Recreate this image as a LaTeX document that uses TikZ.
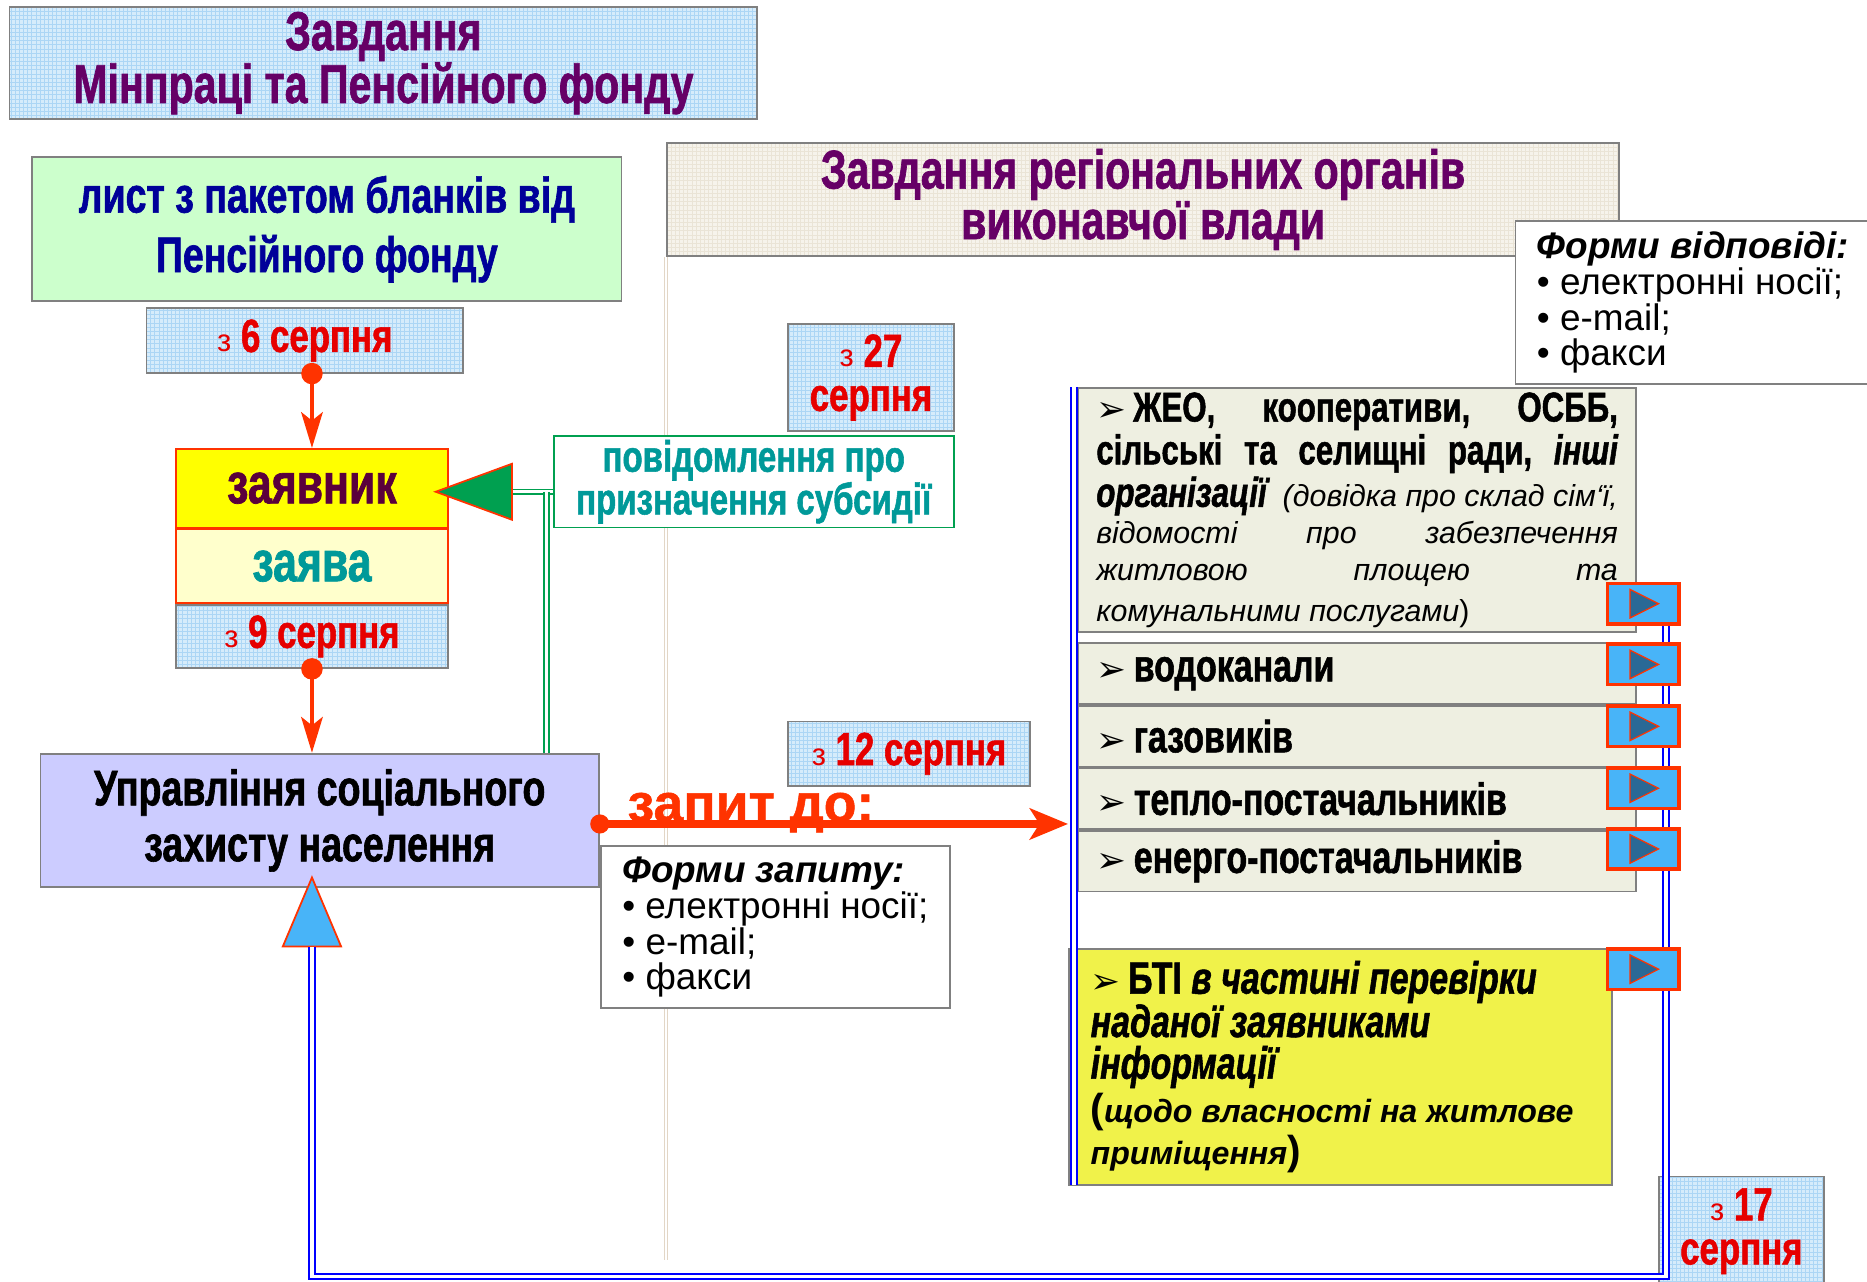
\documentclass[tikz,border=0pt]{standalone}
\usepackage{fontspec}
\setmainfont{Liberation Sans}
\newfontfamily\heavyfont[FakeStretch=0.75,FakeBold=1.2]{Liberation Sans}
\newfontfamily\widebold[FakeBold=1]{Liberation Sans}
\newfontfamily\dejavu{DejaVu Sans}
\newcommand{\hv}{\heavyfont\bfseries}
\newcommand{\zsm}{\normalfont\fontsize{26}{26}\selectfont з}
\newcommand{\bul}{{\dejavu\fontsize{30}{30}\selectfont ➢}\,}
\usetikzlibrary{positioning,shapes.geometric,arrows.meta}

\definecolor{titlePurple}{RGB}{102,0,102}
\definecolor{leafBlue}{RGB}{0,0,153}
\definecolor{leafGreen}{RGB}{204,255,204}
\definecolor{dateRed}{RGB}{230,0,0}
\definecolor{arrowRed}{RGB}{255,51,0}
\definecolor{gridBlue}{RGB}{214,236,251}
\definecolor{gridLine}{RGB}{172,214,245}
\definecolor{beigeFill}{RGB}{246,243,235}
\definecolor{beigeGrid}{RGB}{234,228,214}
\definecolor{beigeLine}{RGB}{226,214,198}
\definecolor{boxGray}{RGB}{128,128,128}
\definecolor{applYellow}{RGB}{255,255,0}
\definecolor{paleYellow}{RGB}{255,255,204}
\definecolor{applPurple}{RGB}{90,0,60}
\definecolor{tealText}{RGB}{0,153,153}
\definecolor{lavender}{RGB}{204,204,255}
\definecolor{noticeGreen}{RGB}{0,160,80}
\definecolor{itemGray}{RGB}{238,239,225}
\definecolor{btiYellow}{RGB}{240,242,74}
\definecolor{btnBlue}{RGB}{72,180,248}
\definecolor{playDark}{RGB}{42,105,150}
\definecolor{lineBlue}{RGB}{0,0,255}

\begin{document}
\begin{tikzpicture}[x=1pt, y=-1pt,
    box/.style={rectangle, draw=boxGray, line width=1.5pt, inner sep=0pt, align=center},
    gridbox/.style={box, fill=gridBlue, path picture={\draw[gridLine, line width=0.4pt] (path picture bounding box.south west) grid[step=3.5pt] (path picture bounding box.north east);}},
    datebox/.style={gridbox, text=dateRed, font=\hv\fontsize{39}{37}\selectfont},
    itembox/.style={box, fill=itemGray, text width=438pt, inner xsep=15pt, align=flush left, minimum height=51pt, font=\hv\fontsize{38}{38}\selectfont},
    listbox/.style={box, fill=white, anchor=north west, inner xsep=18pt, inner ysep=9pt, align=flush left, font=\fontsize{31}{30}\selectfont},
    playbtn/.style={rectangle, fill=btnBlue, draw=arrowRed, line width=3pt, minimum width=60pt, minimum height=34pt, inner sep=0pt,
      path picture={\filldraw[fill=playDark, draw=arrowRed, line width=1pt] ([xshift=-11pt,yshift=12pt]path picture bounding box.center) -- ([xshift=13pt]path picture bounding box.center) -- ([xshift=-11pt,yshift=-12pt]path picture bounding box.center) -- cycle;}},
    tri/.style={isosceles triangle, isosceles triangle stretches, inner sep=0pt, draw=arrowRed, line width=1.5pt, anchor=apex},
    redarrow/.style={arrowRed, line width=4pt, shorten <=-9pt, arrows={Circle[length=18pt]-Stealth[length=30pt,width=18pt,inset=7pt]}},
    reqarrow/.style={arrowRed, line width=6pt, shorten <=-8pt, arrows={Circle[length=16pt]-Stealth[length=32pt,width=26pt,inset=8pt]}},
    greenline/.style={draw=noticeGreen, double=white, line width=1.3pt, double distance=2.5pt},
    blueline/.style={draw=lineBlue, double=white, line width=1.7pt, double distance=3pt},
    beigeline/.style={draw=beigeLine, double=white, line width=1pt, double distance=2pt}]
    \useasboundingbox (0,0) rectangle (1568,1076);

    % Left side: ministry and pension fund
    \node (taskTop) [gridbox, minimum width=628pt, minimum height=94pt, text=titlePurple, font=\hv\fontsize{46}{39}\selectfont] at (322,53) {Завдання\\Мінпраці та Пенсійного фонду};

    \node (leafPF) [box, fill=leafGreen, minimum width=495pt, minimum height=121pt, text=leafBlue, font=\hv\fontsize{42}{50}\selectfont] at (274.5,192.5) {лист з пакетом бланків від\\Пенсійного фонду};

    \node (date6) [datebox, minimum width=266pt, minimum height=54pt] at (256,286) {{\zsm} 6 серпня};

    \node (applicant) [box, draw=arrowRed, fill=applYellow, minimum width=228pt, minimum height=66pt, text=applPurple, font=\hv\fontsize{48}{48}\selectfont] at (262,410) {заявник};
    \node (claim) [box, draw=arrowRed, fill=paleYellow, minimum width=228pt, minimum height=62pt, text=tealText, font=\hv\fontsize{48}{48}\selectfont, below=0pt of applicant] {заява};
    \node (date9) [datebox, minimum width=228pt, minimum height=53pt, below=0pt of claim] {{\zsm} 9 серпня};

    \node (socDept) [box, fill=lavender, minimum width=469pt, minimum height=112pt, font=\hv\fontsize{42}{47}\selectfont] at (268.5,689) {Управління соціального\\захисту населення};

    % Right side: regional bodies
    \node (taskReg) [box, fill=beigeFill, path picture={\draw[beigeGrid, line width=0.4pt] (path picture bounding box.south west) grid[step=3.5pt] (path picture bounding box.north east);}, minimum width=800pt, minimum height=95pt, text=titlePurple, font=\hv\fontsize{46}{39}\selectfont] at (960,167.5) {Завдання регіональних органів\\виконавчої влади};
    \draw [beigeline] (taskReg.south west) -- (taskReg.south west |- 0,1058);

    \node (notice) [box, draw=noticeGreen, fill=white, minimum width=336pt, minimum height=77pt, text=tealText, font=\hv\fontsize{37}{30}\selectfont] at (633,404.5) {повідомлення про\\призначення субсидії};
    \node (date27) [datebox, minimum width=139pt, minimum height=90pt] at (731.5,317) {{\zsm} 27\\серпня};

    \node (greenTri) [tri, shape border rotate=180, minimum width=47pt, minimum height=64pt, fill=noticeGreen] at (364,413) {};
    \coordinate (greenJoint) at (459,413);
    \draw [greenline] (notice.west |- greenJoint) -- (greenTri.lower side);
    \draw [greenline] (socDept.north -| greenJoint) -- (greenJoint);

    \node (respForms) [listbox, text width=267pt] at (1272,185) {\textbf{\textit{Форми відповіді:}}\\• електронні носії;\\• e-mail;\\• факси};

    \node (date17) [datebox, minimum width=139pt, minimum height=92pt] at (1462.5,1034) {{\zsm} 17\\серпня};

    % Boxes of the providers
    \node (zheo) [box, fill=itemGray, anchor=north west, text width=438pt, inner xsep=15pt, minimum height=205pt, align=flush left, font=\hv\fontsize{35}{34}\selectfont] at (905,325) {\bul ЖЕО,\hfill кооперативи,\hfill ОСББ,\\[2pt]
      сільські\hfill та\hfill селищні\hfill ради,\hfill {\itshape інші}\\[2pt]
      {\itshape організації}\hfill\normalfont\itshape\fontsize{25.5}{31}\selectfont (довідка про склад сім‘ї,\\
      відомості\hfill про\hfill забезпечення\\
      житловою\hfill площею\hfill та\\
      комунальними послугами{\upshape )}};
    \node (water) [itembox, below=8pt of zheo] {\bul водоканали};
    \node (gas) [itembox, below=0pt of water] {\bul газовиків};
    \node (heat) [itembox, below=0pt of gas] {\bul тепло-постачальників};
    \node (power) [itembox, below=0pt of heat] {\bul енерго-постачальників};

    \node (bti) [box, fill=btiYellow, minimum height=198pt, text width=420pt, inner xsep=18pt, align=flush left, font=\hv\fontsize{38}{35}\selectfont] at (1126,896) {\bul БТІ {\itshape в частині перевірки}\\
      {\itshape наданої заявниками}\\
      {\itshape інформації}\\
      \normalfont\bfseries\itshape\fontsize{27}{37}\selectfont{\upshape\fontsize{34}{37}\selectfont (}щодо власності на житлове\\
      приміщення{\upshape\fontsize{34}{37}\selectfont )}};

    % Feedback line back to the department
    \node (blueTri) [tri, shape border rotate=90, minimum width=49pt, minimum height=58pt, fill=btnBlue] at (262,735) {};
    \coordinate (fbTop) at (1399,525);
    \coordinate (fbCorner) at (1399,1072);
    \draw [blueline] (fbTop) -- (fbCorner) -| (blueTri.lower side);

    \node (btnA) [playbtn] at (1380,507) {};
    \node (btnB) [playbtn] at (1380,558) {};
    \node (btnC) [playbtn] at (1380,610) {};
    \node (btnD) [playbtn] at (1380,662) {};
    \node (btnE) [playbtn] at (1380,713) {};
    \node (btnF) [playbtn] at (1380,814) {};

    \coordinate (barTop) at (902,325);
    \coordinate (barBottom) at (902,995);
    \draw [blueline] (barTop) -- (barBottom);

    % Request
    \node (date12) [datebox, minimum width=203pt, minimum height=54pt] at (763.5,633) {{\zsm} 12 серпня};
    \node (reqForms) [listbox, text width=257pt] at (504,710) {\textbf{\textit{Форми запиту:}}\\• електронні носії;\\• e-mail;\\• факси};

    % Arrows
    \draw [redarrow] (date6.south -| applicant.north) -- (applicant.north);
    \draw [redarrow] (date9.south) -- (socDept.north -| date9.south);
    \coordinate (reqEnd) at (897,692);
    \draw [reqarrow] (socDept.east |- reqEnd) -- node [pos=0, anchor=base west, xshift=17pt, yshift=2pt, text=arrowRed, font=\widebold\bfseries\fontsize{45}{45}\selectfont] (reqLabel) {запит до:} (reqEnd);
\end{tikzpicture}
\end{document}
